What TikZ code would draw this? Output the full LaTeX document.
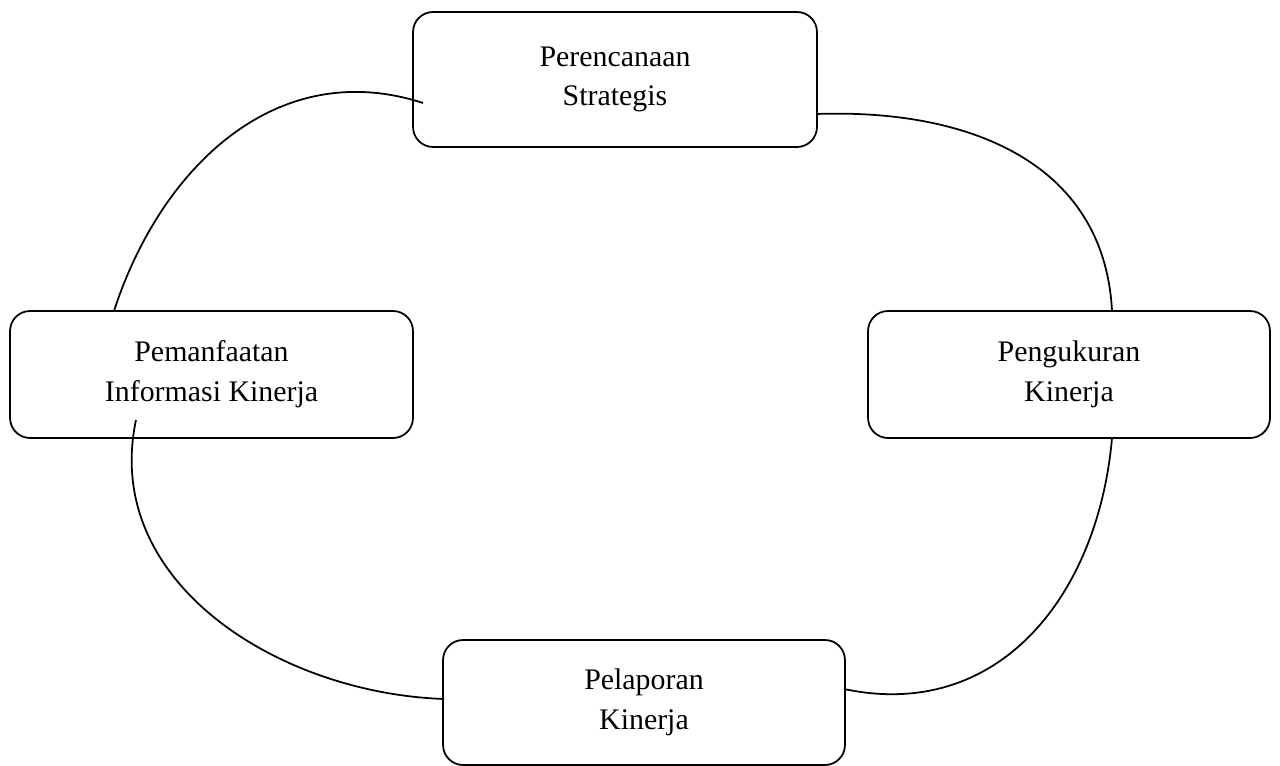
\documentclass[tikz,border=0pt]{standalone}
\usepackage{fontspec}
\setmainfont{Liberation Serif}

\begin{document}
\begin{tikzpicture}
  [x=0.02cm,y=0.02cm,line width=1pt,every node/.style={draw,rounded corners=0.4cm,align=center,font=\fontsize{17}{22.7}\selectfont}]

  \useasboundingbox (0,0) rectangle (1280,766);

  \node[minimum width=8.08cm,minimum height=2.7cm] (n1) at (615,686.5) {Perencanaan\\Strategis};
  \node[minimum width=8.04cm,minimum height=2.54cm] (n2) at (1069,391.5) {Pengukuran\\Kinerja};
  \node[minimum width=8.04cm,minimum height=2.5cm] (n3) at (644,63.5) {Pelaporan\\Kinerja};
  \node[minimum width=8.06cm,minimum height=2.54cm] (n4) at (211.5,391.5) {Pemanfaatan\\Informasi Kinerja};

  \coordinate (c1) at (114,455);
  \coordinate (c2) at (423,663);
  \coordinate (c3) at (817,652);
  \coordinate (c4) at (1112,455);
  \coordinate (c5) at (1112,328);
  \coordinate (c6) at (844,77);
  \coordinate (c7) at (444,67);
  \coordinate (c8) at (136,346);

  \draw (c1) to[out=72,in=162,looseness=1.05] (c2);
  \draw (c3) to[out=2,in=93,looseness=1.08] (c4);
  \draw (c5) to[out=-95,in=-12,looseness=1.1] (c6);
  \draw (c8) to[out=-102,in=178,looseness=1.02] (c7);
\end{tikzpicture}
\end{document}
